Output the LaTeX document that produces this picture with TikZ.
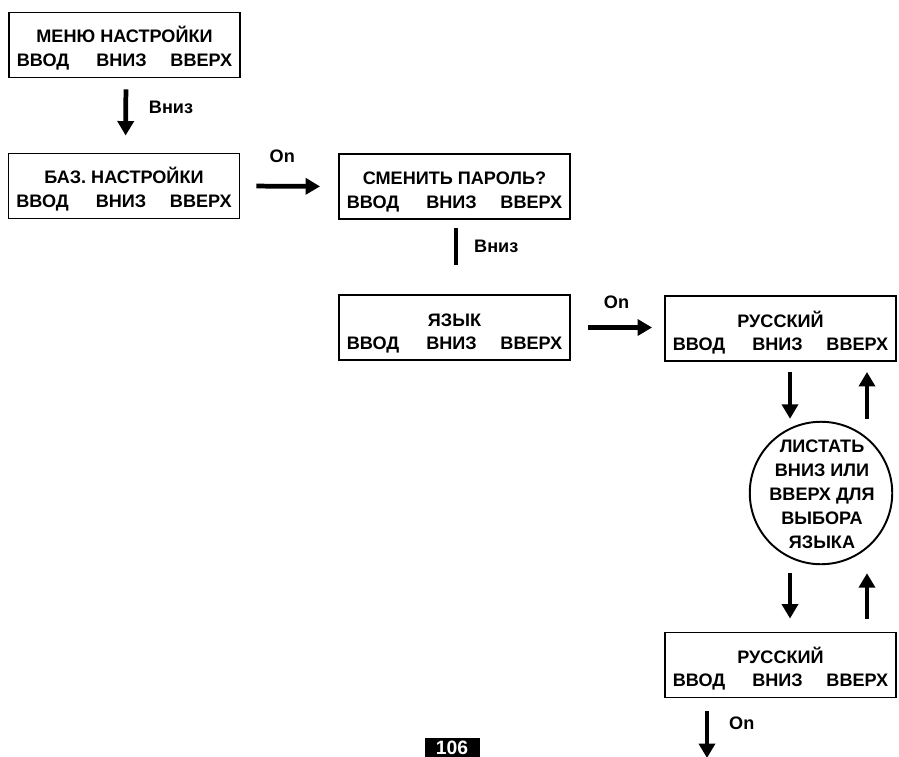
\documentclass[tikz,border=0pt]{standalone}
\usepackage{fontspec}
\setmainfont{Liberation Sans}
\usetikzlibrary{arrows.meta}

\begin{document}
\begin{tikzpicture}[x=0.02cm, y=-0.02cm,
  every node/.style={font=\fontsize{10.3}{12}\bfseries\selectfont},
  screen/.style={draw, line width=1.1pt, minimum width=4.62cm, minimum height=1.3cm, inner sep=0pt},
  row/.style={inner sep=0pt},
  menu/.style={draw, circle, line width=1.1pt, minimum size=2.85cm, inner sep=0pt},
  menutext/.style={align=center, inner sep=0pt, font=\fontsize{10.3}{13.6}\bfseries\selectfont},
  arr/.style={line width=2.7pt, -{Triangle[length=2.9mm,width=3.2mm]}},
  bar/.style={line width=2.7pt}]
  \clip (0,0) rectangle (899,757);

  % screens
  \node[screen] (b1) at (124.5,45) {};
  \node[screen] (b2) at (124,186) {};
  \node[screen] (b3) at (454.5,186.5) {};
  \node[screen] (b4) at (454.5,327.5) {};
  \node[screen] (b5) at (780.5,328.5) {};
  \node[screen] (b6) at (780.5,665) {};

  \node[row, anchor=base] (t1) at ([yshift=-0.61cm]b1.north) {МЕНЮ НАСТРОЙКИ};
  \node[row, anchor=base] (t2) at ([yshift=-0.62cm]b2.north) {БАЗ. НАСТРОЙКИ};
  \node[row, anchor=base] (t3) at ([yshift=-0.62cm]b3.north) {СМЕНИТЬ ПАРОЛЬ?};
  \node[row, anchor=base] (t4) at ([yshift=-0.64cm]b4.north) {ЯЗЫК};
  \node[row, anchor=base] (t5) at ([yshift=-0.64cm]b5.north) {РУССКИЙ};
  \node[row, anchor=base] (t6) at ([yshift=-0.64cm]b6.north) {РУССКИЙ};

  \foreach \b in {b1,b2,b3,b4,b5,b6} {
    \node[row, anchor=base west] (\b-l) at ([shift={(0.17cm,0.23cm)}]\b.south west) {ВВОД};
    \node[row, anchor=base] (\b-m) at ([shift={(-0.06cm,0.23cm)}]\b.south) {ВНИЗ};
    \node[row, anchor=base east] (\b-r) at ([shift={(-0.17cm,0.23cm)}]\b.south east) {ВВЕРХ};
  }

  \node[menu] (c) at (821,493) {};
  \node[menutext] (ct) at ([shift={(0.02cm,-0.02cm)}]c.center) {ЛИСТАТЬ\\ВНИЗ ИЛИ\\ВВЕРХ ДЛЯ\\ВЫБОРА\\ЯЗЫКА};

  % connectors
  \draw[arr, shorten <=0.22cm, shorten >=0.34cm] ([xshift=0.03cm]b1.south) -- ([xshift=0.03cm]b2.north)
    node[midway, right=0.3cm, yshift=0.16cm] (l1) {Вниз};
  \draw[arr, shorten <=0.32cm, shorten >=0.36cm] (b2.east) -- (b3.west)
    node[midway, above=0.3cm, xshift=-0.14cm] (l2) {On};
  \draw[bar, shorten <=0.16cm, shorten >=0.58cm] ([xshift=0.03cm]b3.south) -- ([xshift=0.03cm]b4.north)
    node[pos=0.36, right=0.2cm] (l3) {Вниз};
  \draw[arr, shorten <=0.34cm, shorten >=0.24cm] (b4.east) -- (b4.east -| b5.west)
    node[midway, above=0.22cm, xshift=-0.02cm] (l4) {On};

  \draw[arr, shorten <=0.2cm, shorten >=0.04cm] ([xshift=0.19cm]b5.south) -- ([xshift=0.19cm]b5.south |- c.north);
  \draw[arr, shorten <=0.04cm, shorten >=0.2cm] ([xshift=1.73cm]b5.south |- c.north) -- ([xshift=1.73cm]b5.south);
  \draw[arr, shorten <=0.16cm, shorten >=0.26cm] ([xshift=0.19cm]b6.north |- c.south) -- ([xshift=0.19cm]b6.north);
  \draw[arr, shorten <=0.26cm, shorten >=0.16cm] ([xshift=1.73cm]b6.north) -- ([xshift=1.73cm]b6.north |- c.south);

  \coordinate (exit) at (707,758);
  \draw[arr, shorten <=0.26cm] (b6.south -| exit) -- (exit)
    node[midway, right=0.28cm, yshift=0.1cm] (l5) {On};

  % page number
  \node[fill=black, text=white, minimum width=1.1cm, minimum height=0.4cm, inner sep=0pt,
    font=\fontsize{11}{12}\bfseries\selectfont] (pg) at (452,748) {106};
\end{tikzpicture}
\end{document}
